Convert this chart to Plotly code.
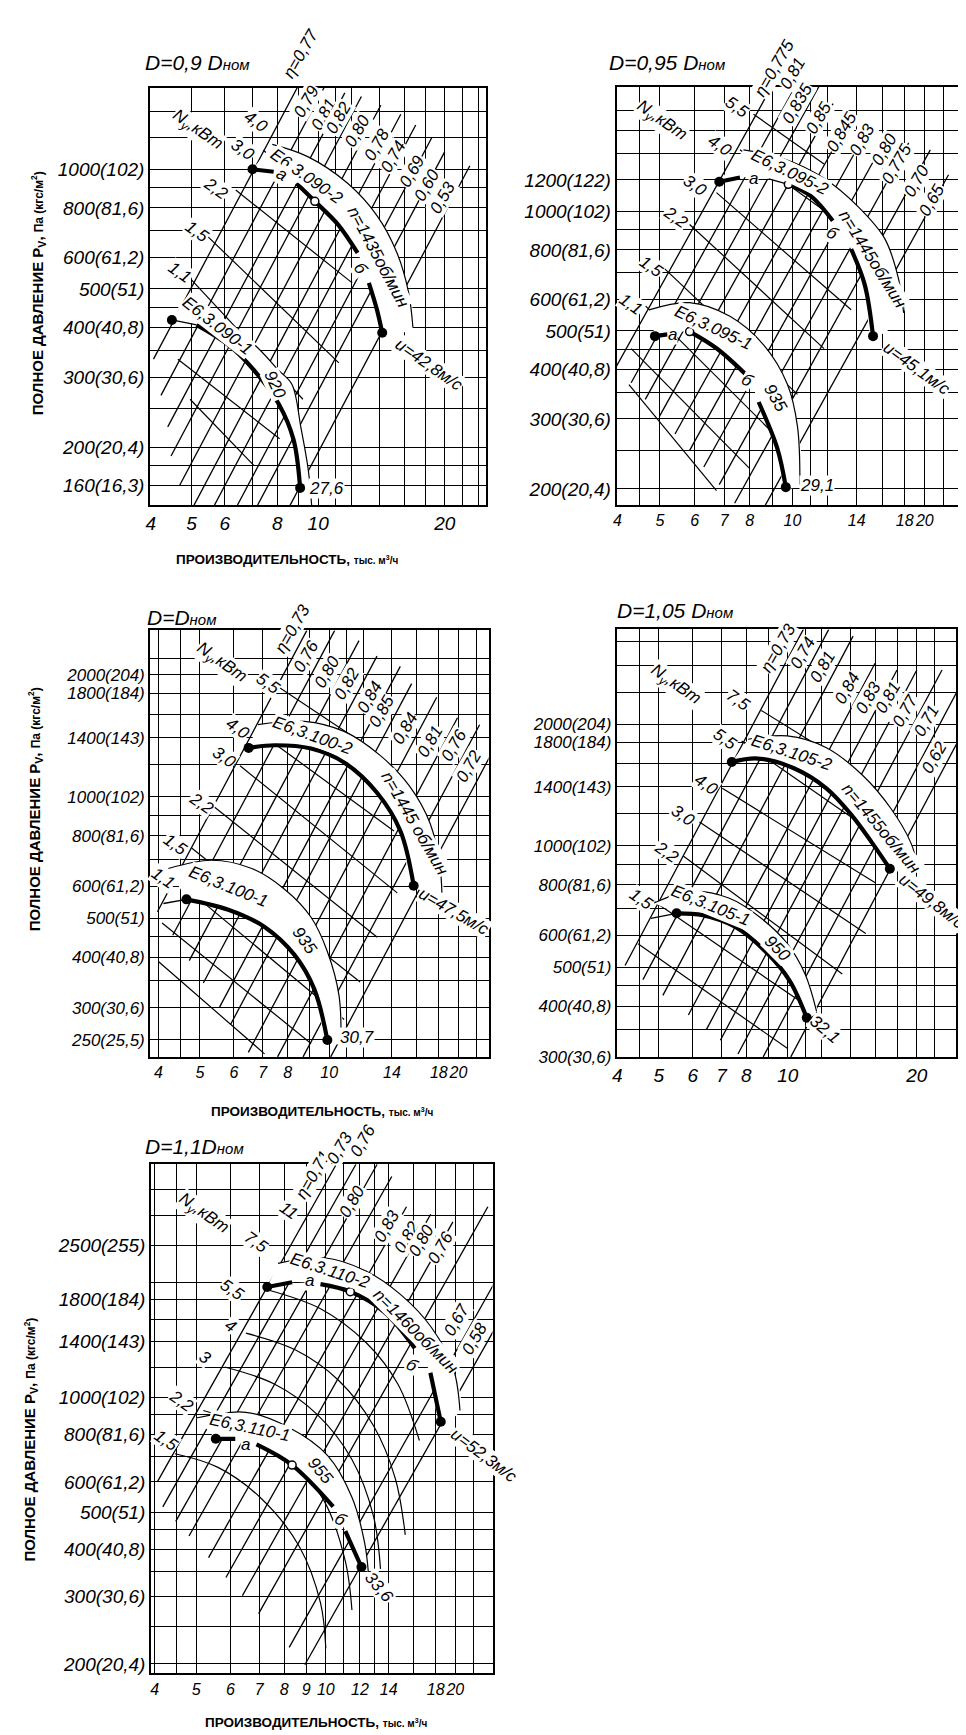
import math
import plotly.graph_objects as go

# ================= DATA =================
# ---------- Panel 1 : D = 0,9 Dном ----------
P1_X_TICKS = [4, 5, 6, 8, 10, 20]
P1_Y_TICKS = [160, 200, 300, 400, 500, 600, 800, 1000]
P1_Y_TEXT = ['160(16,3)', '200(20,4)', '300(30,6)', '400(40,8)', '500(51)', '600(61,2)', '800(81,6)', '1000(102)']
P1_X_GRID = [5, 6, 7, 8, 9, 10, 11, 12, 14, 16, 18, 20, 22, 24]
P1_Y_GRID = [160, 180, 200, 250, 300, 350, 400, 450, 500, 600, 700, 800, 900, 1000, 1200, 1400]
P1_C2_Q = [6.98, 7.84, 8.89, 9.82, 11.14, 12.41, 13.2, 13.8, 14.2]
P1_C2_P = [1000, 986, 921, 831, 727, 616, 518, 443, 388]
P1_C1_Q = [4.49, 5.14, 6.15, 7.1, 8.06, 8.74, 9.06]
P1_C1_P = [418, 406, 360, 309, 257, 209, 158]
P1_OPEN_Q = [9.82]
P1_OPEN_P = [831]
P1_B2_Q = [7.78, 9.47, 11.77, 13.8, 15.4, 16.4, 16.8]
P1_B2_P = [1155, 1075, 921, 765, 616, 491, 400]
P1_B1_Q = [4.78, 5.93, 7.1, 8.06, 8.66, 9.1, 9.47, 9.65]
P1_B1_P = [462, 417, 360, 312, 288, 224, 176, 143]
P1_ETA_TXT = ['η=0,77', '0,79', '0,81', '0,82', '0,80', '0,78', '0,74', '0,69', '0,60', '0,53']
P1_ETA_QT = [9.34, 10.49, 11.57, 12.67, 14.09, 15.72, 17.06, 18.65, 20.0, 22.94]
P1_ETA_PT = [1760, 1656, 1557, 1525, 1449, 1376, 1293, 1204, 1108, 1021]
P1_ETA_QB = [4.06, 4.23, 4.39, 4.47, 4.68, 5.07, 5.67, 6.43, 7.18, 8.58]
P1_ETA_PB = [333, 270, 225, 190, 160, 143, 143, 143, 143, 143]
P1_ETA_LQ = [9.1, 9.39, 10.3, 11.2, 12.4, 13.8, 15.1, 16.7, 18.1, 19.8]
P1_ETA_LP = [1953, 1479, 1376, 1348, 1254, 1155, 1075, 990, 912, 848]
P1_PW_Q0 = [7.41, 6.37, 5.36, 5.0, 4.64, 4.96]
P1_PW_P0 = [1117, 887, 691, 527, 333, 264]
P1_PW_Q1 = [14.4, 12.05, 11.2, 9.2, 8.1, 7.03]
P1_PW_P1 = [616, 518, 326, 264, 210, 180]
P1_NY_TXT = ['N<sub>у</sub>,кВт', '3,0', '4,0', '2,2', '1,5', '1,1']
P1_NY_Q = [5.14, 6.61, 7.1, 5.7, 5.14, 4.69]
P1_NY_P = [1254, 1124, 1320, 893, 698, 550]
P1_LAB_TXT = ['Е6,3.090-2', 'n=1435об/мин', 'u=42,8м/с', 'Е6,3.090-1', '920', '27,6', 'а', 'б']
P1_LAB_Q = [9.4, 13.9, 18.3, 5.75, 7.9, 10.45, 8.2, 12.6]
P1_LAB_P = [960, 600, 322, 405, 288, 157, 970, 562]

# ---------- Panel 2 : D = 0,95 Dном ----------
P2_X_TICKS = [4, 5, 6, 7, 8, 10, 14, 18, 20]
P2_Y_TICKS = [200, 300, 400, 500, 600, 800, 1000, 1200]
P2_Y_TEXT = ['200(20,4)', '300(30,6)', '400(40,8)', '500(51)', '600(61,2)', '800(81,6)', '1000(102)', '1200(122)']
P2_X_GRID = [4.5, 5, 6, 7, 8, 9, 10, 11, 12, 14, 16, 18, 20, 22]
P2_Y_GRID = [200, 250, 300, 350, 400, 450, 500, 600, 700, 800, 900, 1000, 1200, 1400, 1600, 1800]
P2_C2_Q = [6.82, 7.6, 8.83, 9.79, 11.0, 12.35, 13.6, 14.6, 15.25]
P2_C2_P = [1188, 1217, 1207, 1170, 1094, 947, 803, 654, 485]
P2_C1_Q = [4.87, 5.2, 5.84, 6.72, 7.88, 8.38, 9.24, 9.66]
P2_C1_P = [485, 490, 498, 452, 386, 331, 253, 202]
P2_OPEN_Q = [9.79, 5.84]
P2_OPEN_P = [1170, 498]
P2_B2_Q = [7.74, 9.56, 11.8, 14.1, 16.2, 17.4, 17.9]
P2_B2_P = [1429, 1357, 1212, 1028, 855, 681, 555]
P2_B1_Q = [4.72, 5.84, 7.21, 8.6, 9.74, 10.27, 10.4]
P2_B1_P = [565, 589, 544, 461, 367, 287, 205]
P2_ETA_TXT = ['η=0,775', '0,81', '0,835', '0,85', '0,845', '0,83', '0,80', '0,775', '0,70', '0,65']
P2_ETA_QT = [8.97, 10.15, 11.49, 12.37, 13.69, 15.02, 16.29, 18.38, 20.58, 22.64]
P2_ETA_PT = [2063, 2063, 2063, 1868, 1757, 1651, 1520, 1489, 1429, 1237]
P2_ETA_QB = [3.98, 4.30, 4.63, 4.99, 5.41, 5.84, 6.29, 6.82, 7.39, 8.68]
P2_ETA_PB = [407, 370, 336, 305, 275, 250, 227, 205, 184, 182]
P2_ETA_LQ = [9.08, 10.0, 10.27, 11.5, 12.9, 14.4, 16.2, 17.2, 19.2, 20.8]
P2_ETA_LP = [2294, 2226, 1868, 1721, 1584, 1520, 1429, 1316, 1193, 1069]
P2_PW_Q0 = [8.16, 7.6, 6.72, 5.84, 5.07, 4.64, 4.3, 4.25]
P2_PW_P0 = [1757, 1429, 1115, 927, 725, 577, 451, 366]
P2_PW_Q1 = [11.8, 14.1, 13.6, 11.8, 10.27, 9.08, 8.0, 6.72]
P2_PW_P1 = [1316, 872, 565, 451, 346, 275, 225, 198]
P2_NY_TXT = ['N<sub>у</sub>,кВт', '5,5', '4,0', '3,0', '2,2', '1,5', '1,1']
P2_NY_Q = [5.03, 7.5, 6.84, 6.0, 5.43, 4.76, 4.3]
P2_NY_P = [1686, 1830, 1468, 1163, 964, 725, 583]
P2_LAB_TXT = ['Е6,3.095-2', 'n=1445об/мин', 'u=45,1м/с', 'Е6,3.095-1', '935', '29,1', 'а', 'б', 'а', 'б']
P2_LAB_Q = [9.9, 15.2, 19.2, 6.6, 9.17, 11.4, 8.16, 12.35, 5.33, 7.91]
P2_LAB_P = [1250, 755, 403, 510, 338, 204, 1212, 880, 490, 375]

# ---------- Panel 3 : D = Dном ----------
P3_X_TICKS = [4, 5, 6, 7, 8, 10, 14, 18, 20]
P3_Y_TICKS = [250, 300, 400, 500, 600, 800, 1000, 1400, 1800, 2000]
P3_Y_TEXT = ['250(25,5)', '300(30,6)', '400(40,8)', '500(51)', '600(61,2)', '800(81,6)', '1000(102)', '1400(143)', '1800(184)', '2000(204)']
P3_X_GRID = [4, 4.5, 5, 6, 7, 8, 9, 10, 11, 12, 14, 16, 18, 20, 22]
P3_Y_GRID = [250, 300, 350, 400, 450, 500, 600, 700, 800, 900, 1000, 1200, 1400, 1600, 1800, 2000, 2200]
P3_C2_Q = [6.49, 7.46, 9.07, 10.83, 12.94, 14.65, 15.73]
P3_C2_P = [1320, 1340, 1315, 1215, 1021, 822, 602]
P3_C1_Q = [4.65, 5.82, 7.07, 8.3, 9.23, 9.9]
P3_C1_P = [557, 525, 476, 406, 334, 250]
P3_C1S_Q = [4.11, 4.65]
P3_C1S_P = [544, 557]
P3_OPEN_Q = []
P3_OPEN_P = []
P3_B2_Q = [6.82, 8.75, 10.83, 13.16, 15.4, 17.2, 18.1, 18.3]
P3_B2_P = [1507, 1536, 1450, 1263, 1060, 856, 676, 578]
P3_B1_Q = [4.22, 5.32, 6.6, 7.87, 9.07, 9.9, 10.54, 10.65]
P3_B1_P = [664, 696, 664, 590, 503, 414, 322, 245]
P3_ETA_TXT = ['η=0,73', '0,76', '0,80', '0,82', '0,84', '0,85', '0,84', '0,81', '0,76', '0,72']
P3_ETA_QT = [8.87, 10.3, 11.73, 12.92, 14.64, 15.56, 17.8, 19.9, 22.4, 24.2]
P3_ETA_PT = [2578, 2578, 2432, 2227, 2100, 1904, 1762, 1567, 1506, 1314]
P3_ETA_QB = [3.98, 4.32, 4.72, 5.09, 5.55, 5.89, 6.48, 7.58, 8.69, 10.08]
P3_ETA_PB = [519, 454, 393, 346, 301, 273, 233, 227, 227, 227]
P3_ETA_LQ = [8.22, 8.82, 9.9, 11.0, 12.4, 13.3, 15.0, 17.2, 19.5, 21.2]
P3_ETA_LP = [2604, 2227, 2039, 1904, 1762, 1629, 1478, 1366, 1340, 1192]
P3_PW_Q0 = [7.59, 6.82, 6.2, 5.41, 4.78, 4.37, 4.08, 4.0]
P3_PW_P0 = [1872, 1450, 1192, 941, 746, 626, 487, 391]
P3_PW_Q1 = [12.5, 14.15, 14.4, 12.94, 11.8, 10.83, 9.07, 7.07]
P3_PW_P1 = [1315, 822, 578, 449, 348, 281, 245, 231]
P3_NY_TXT = ['N<sub>у</sub>,кВт', '5,5', '4,0', '3,0', '2,2', '1,5', '1,1']
P3_NY_Q = [5.6, 7.2, 6.13, 5.7, 5.04, 4.37, 4.11]
P3_NY_P = [2138, 1904, 1478, 1249, 963, 760, 626]
P3_LAB_TXT = ['Е6,3.100-2', 'n=1445 об/мин', 'u=47,5м/с', 'Е6,3.100-1', '935', '30,7']
P3_LAB_Q = [9.15, 15.8, 19.5, 5.82, 8.75, 11.6]
P3_LAB_P = [1420, 856, 520, 600, 440, 253]

# ---------- Panel 4 : D = 1,05 Dном ----------
P4_X_TICKS = [4, 5, 6, 7, 8, 10, 20]
P4_Y_TICKS = [300, 400, 500, 600, 800, 1000, 1400, 1800, 2000]
P4_Y_TEXT = ['300(30,6)', '400(40,8)', '500(51)', '600(61,2)', '800(81,6)', '1000(102)', '1400(143)', '1800(184)', '2000(204)']
P4_X_GRID = [4.5, 5, 6, 7, 8, 9, 10, 11, 12, 14, 16, 18, 20, 22]
P4_Y_GRID = [350, 400, 450, 500, 600, 700, 800, 900, 1000, 1200, 1400, 1600, 1800, 2000, 2400, 2800, 3200]
P4_C2_Q = [7.4, 8.51, 10.3, 12.3, 14.1, 15.7, 17.3]
P4_C2_P = [1611, 1643, 1557, 1387, 1189, 1019, 877]
P4_C1_Q = [5.5, 6.33, 7.53, 8.98, 10.1, 11.07]
P4_C1_P = [680, 673, 630, 540, 463, 375]
P4_C1S_Q = [4.79, 5.5]
P4_C1S_P = [661, 680]
P4_OPEN_Q = []
P4_OPEN_P = []
P4_B2_Q = [8.08, 9.97, 12.3, 14.9, 17.4, 19.35, 20.2]
P4_B2_P = [1834, 1869, 1748, 1498, 1236, 1019, 874]
P4_B1_Q = [4.87, 5.9, 7.28, 8.67, 9.97, 10.97, 11.67]
P4_B1_P = [721, 771, 742, 661, 572, 481, 389]
P4_ETA_TXT = ['η=0,73', '0,74', '0,81', '0,84', '0,83', '0,81', '0,77', '0,71', '0,62']
P4_ETA_QT = [10.87, 12.46, 14.2, 15.98, 17.98, 20.0, 22.9, 25.4, 28.3]
P4_ETA_PT = [3430, 3430, 3300, 2828, 2721, 2721, 2721, 2520, 2333]
P4_ETA_QB = [4.17, 4.59, 5.11, 5.86, 6.46, 6.96, 7.65, 8.76, 10.16]
P4_ETA_PB = [505, 466, 426, 381, 351, 330, 305, 300, 300]
P4_ETA_LQ = [9.53, 10.8, 12.07, 13.75, 15.4, 17.1, 18.8, 21.1, 22.0]
P4_ETA_LP = [3086, 2996, 2775, 2448, 2333, 2333, 2161, 2039, 1649]
P4_PW_Q0 = [8.67, 7.8, 7.03, 6.22, 5.69, 4.87, 4.47]
P4_PW_P0 = [2161, 1816, 1387, 1144, 944, 728, 572]
P4_PW_Q1 = [12.7, 14.6, 16.0, 15.2, 13.4, 11.86, 9.97]
P4_PW_P1 = [1682, 1144, 809, 606, 481, 382, 315]
P4_NY_TXT = ['N<sub>у</sub>,кВт', '7,5', '5,5', '4,0', '3,0', '2,2', '1,5']
P4_NY_Q = [5.45, 7.67, 7.15, 6.44, 5.69, 5.22, 4.55]
P4_NY_P = [2495, 2289, 1834, 1414, 1189, 962, 735]
P4_LAB_TXT = ['Е6,3.105-2', 'n=1455об/мин', 'u=49,8м/с', 'Е6,3.105-1', '950', '32,1']
P4_LAB_Q = [10.2, 16.5, 21.7, 6.61, 9.46, 12.2]
P4_LAB_P = [1700, 1101, 728, 710, 556, 350]

# ---------- Panel 5 : D = 1,1 Dном ----------
P5_X_TICKS = [4, 5, 6, 7, 8, 9, 10, 12, 14, 18, 20]
P5_Y_TICKS = [200, 300, 400, 500, 600, 800, 1000, 1400, 1800, 2500]
P5_Y_TEXT = ['200(20,4)', '300(30,6)', '400(40,8)', '500(51)', '600(61,2)', '800(81,6)', '1000(102)', '1400(143)', '1800(184)', '2500(255)']
P5_X_GRID = [4.5, 5, 6, 7, 8, 9, 10, 11, 12, 13, 14, 16, 18, 20, 22]
P5_Y_GRID = [200, 250, 300, 350, 400, 450, 500, 600, 700, 800, 900, 1000, 1200, 1400, 1600, 1800, 2000, 2500, 3000, 3500]
P5_C2_Q = [7.31, 8.35, 9.72, 11.4, 13.7, 16.1, 17.5, 18.5]
P5_C2_P = [1944, 2001, 1979, 1891, 1669, 1344, 1159, 862]
P5_C1_Q = [5.55, 6.16, 6.9, 8.35, 10.4, 11.1, 12.1]
P5_C1_P = [778, 778, 752, 664, 517, 446, 359]
P5_OPEN_Q = [11.4, 8.35]
P5_OPEN_P = [1891, 664]
P5_B2_Q = [7.74, 9.91, 12.4, 15.0, 17.6, 19.8, 20.5]
P5_B2_P = [2243, 2320, 2142, 1849, 1523, 1186, 923]
P5_B1_Q = [5.0, 6.52, 8.19, 10.1, 11.5, 12.3, 12.55]
P5_B1_P = [882, 913, 834, 703, 547, 417, 350]
P5_ETA_TXT = ['η=0,71', '0,73', '0,76', '0,80', '0,83', '0,82', '0,80', '0,76', '0,67', '0,58']
P5_ETA_QT = [10.58, 11.75, 13.16, 14.23, 15.4, 17.53, 19.74, 23.8, 24.7, 24.6]
P5_ETA_PT = [4077, 4077, 4077, 3788, 3155, 3017, 2880, 3155, 2000, 1500]
P5_ETA_QB = [4.06, 4.18, 4.48, 4.81, 5.34, 5.86, 6.4, 6.98, 8.22, 8.94]
P5_ETA_PB = [600, 516, 473, 433, 380, 337, 302, 271, 221, 199]
P5_ETA_LQ = [9.36, 10.8, 12.2, 11.5, 13.9, 15.4, 16.7, 18.5, 20.2, 22.2]
P5_ETA_LP = [3830, 4500, 4700, 3260, 2814, 2627, 2569, 2463, 1594, 1423]
P5_A_Q = [[7.31, 9.72, 12.4, 14.7, 16.5],
          [6.52, 8.51, 10.7, 12.9, 14.5, 15.3],
          [5.82, 7.59, 9.53, 11.5, 12.9, 13.4],
          [5.19, 6.52, 8.19, 9.91, 11.1, 11.5],
          [4.46, 5.6, 7.03, 8.67, 9.72, 10.0]]
P5_A_P = [[1913, 1706, 1391, 1083, 770],
          [1472, 1329, 1108, 843, 613, 436],
          [1200, 1083, 903, 687, 489, 355],
          [923, 843, 703, 535, 372, 277],
          [711, 656, 547, 407, 289, 220]]
P5_NY_TXT = ['N<sub>у</sub>,кВт', '11', '7,5', '5,5', '4', '3', '2,2', '1,5']
P5_NY_Q = [5.19, 8.19, 6.9, 6.04, 5.99, 5.24, 4.63, 4.25]
P5_NY_P = [3017, 3085, 2543, 1913, 1541, 1270, 977, 770]
P5_LAB_TXT = ['Е6,3.110-2', 'n=1460об/мин', 'u=52,3м/с', 'Е6,3.110-1', '955', '33,6', 'а', 'б', 'а', 'б']
P5_LAB_Q = [10.2, 16.2, 23.3, 6.65, 9.7, 13.3, 9.18, 15.9, 6.52, 10.8]
P5_LAB_P = [2150, 1489, 703, 834, 642, 317, 2025, 1213, 752, 477]

TITLES = ['D=0,9 D', 'D=0,95 D', 'D=D', 'D=1,05 D', 'D=1,1D']
Y_TITLE = 'ПОЛНОЕ ДАВЛЕНИЕ P<sub>V</sub>, '
X_TITLE = 'ПРОИЗВОДИТЕЛЬНОСТЬ,'

# ================= LAYOUT / STYLE =================
W, H = 966, 1735
FONT = 'Liberation Sans'
T, t = 4.2, 1.25   # thick / thin widths

PANELS = [
    dict(n='', box=(138, 80, 475, 500), xr=(3.99, 25.0), yr=(143, 1606), ytf=19, xtf=19,
         xt=P1_X_TICKS, yt=P1_Y_TICKS, ytt=P1_Y_TEXT, xg=P1_X_GRID, yg=P1_Y_GRID,
         c2=(P1_C2_Q, P1_C2_P), c1=(P1_C1_Q, P1_C1_P), c1s=None,
         seg2=[(0, 1, T), (2, 5, T), (6, 8, T)], seg1=[(0, 1, t), (1, 6, T)],
         op=(P1_OPEN_Q, P1_OPEN_P), b2=(P1_B2_Q, P1_B2_P), b1=(P1_B1_Q, P1_B1_P),
         eta=(P1_ETA_TXT, P1_ETA_QT, P1_ETA_PT, P1_ETA_QB, P1_ETA_PB, P1_ETA_LQ, P1_ETA_LP),
         pw=(P1_PW_Q0, P1_PW_P0, P1_PW_Q1, P1_PW_P1), arcs=None,
         ny=(P1_NY_TXT, P1_NY_Q, P1_NY_P), lab=(P1_LAB_TXT, P1_LAB_Q, P1_LAB_P),
         labang=[35, 62, 35, 38, 65, 0, 30, 55],
         title=(TITLES[0], 185, 55)),
    dict(n='2', box=(607, 79, 950, 500), xr=(3.99, 23.8), yr=(182, 2063), ytf=19, xtf=16,
         xt=P2_X_TICKS, yt=P2_Y_TICKS, ytt=P2_Y_TEXT, xg=P2_X_GRID, yg=P2_Y_GRID,
         c2=(P2_C2_Q, P2_C2_P), c1=(P2_C1_Q, P2_C1_P), c1s=None,
         seg2=[(0, 1, T), (2, 3, t), (3, 5, T), (6, 8, T)], seg1=[(0, 1, T), (2, 4, T), (5, 7, T)],
         op=(P2_OPEN_Q, P2_OPEN_P), b2=(P2_B2_Q, P2_B2_P), b1=(P2_B1_Q, P2_B1_P),
         eta=(P2_ETA_TXT, P2_ETA_QT, P2_ETA_PT, P2_ETA_QB, P2_ETA_PB, P2_ETA_LQ, P2_ETA_LP),
         pw=(P2_PW_Q0, P2_PW_P0, P2_PW_Q1, P2_PW_P1), arcs=None,
         ny=(P2_NY_TXT, P2_NY_Q, P2_NY_P), lab=(P2_LAB_TXT, P2_LAB_Q, P2_LAB_P),
         labang=[26, 58, 36, 25, 60, 0, 0, 30, 0, 30],
         title=(TITLES[1], 657, 55)),
    dict(n='3', box=(138, 626, 478, 1055), xr=(3.83, 23.5), yr=(227, 2578), ytf=17, xtf=16,
         xt=P3_X_TICKS, yt=P3_Y_TICKS, ytt=P3_Y_TEXT, xg=P3_X_GRID, yg=P3_Y_GRID,
         c2=(P3_C2_Q, P3_C2_P), c1=(P3_C1_Q, P3_C1_P), c1s=(P3_C1S_Q, P3_C1S_P),
         seg2=[(0, 6, T)], seg1=[(0, 5, T)],
         op=(P3_OPEN_Q, P3_OPEN_P), b2=(P3_B2_Q, P3_B2_P), b1=(P3_B1_Q, P3_B1_P),
         eta=(P3_ETA_TXT, P3_ETA_QT, P3_ETA_PT, P3_ETA_QB, P3_ETA_PB, P3_ETA_LQ, P3_ETA_LP),
         pw=(P3_PW_Q0, P3_PW_P0, P3_PW_Q1, P3_PW_P1), arcs=None,
         ny=(P3_NY_TXT, P3_NY_Q, P3_NY_P), lab=(P3_LAB_TXT, P3_LAB_Q, P3_LAB_P),
         labang=[20, 60, 30, 22, 55, 0],
         title=(TITLES[2], 170, 613)),
    dict(n='4', box=(607, 625, 948, 1055), xr=(3.99, 24.7), yr=(300, 3430), ytf=17, xtf=19,
         xt=P4_X_TICKS, yt=P4_Y_TICKS, ytt=P4_Y_TEXT, xg=P4_X_GRID, yg=P4_Y_GRID,
         c2=(P4_C2_Q, P4_C2_P), c1=(P4_C1_Q, P4_C1_P), c1s=(P4_C1S_Q, P4_C1S_P),
         seg2=[(0, 6, T)], seg1=[(0, 5, T)],
         op=(P4_OPEN_Q, P4_OPEN_P), b2=(P4_B2_Q, P4_B2_P), b1=(P4_B1_Q, P4_B1_P),
         eta=(P4_ETA_TXT, P4_ETA_QT, P4_ETA_PT, P4_ETA_QB, P4_ETA_PB, P4_ETA_LQ, P4_ETA_LP),
         pw=(P4_PW_Q0, P4_PW_P0, P4_PW_Q1, P4_PW_P1), arcs=None,
         ny=(P4_NY_TXT, P4_NY_Q, P4_NY_P), lab=(P4_LAB_TXT, P4_LAB_Q, P4_LAB_P),
         labang=[18, 50, 38, 22, 45, 40],
         title=(TITLES[3], 665, 606)),
    dict(n='5', box=(139, 1163, 482, 1675), xr=(3.93, 24.4), yr=(189, 4077), ytf=19, xtf=16,
         xt=P5_X_TICKS, yt=P5_Y_TICKS, ytt=P5_Y_TEXT, xg=P5_X_GRID, yg=P5_Y_GRID,
         c2=(P5_C2_Q, P5_C2_P), c1=(P5_C1_Q, P5_C1_P), c1s=None,
         seg2=[(0, 1, T), (2, 5, T), (6, 7, T)], seg1=[(0, 1, T), (2, 4, T), (5, 6, T)],
         op=(P5_OPEN_Q, P5_OPEN_P), b2=(P5_B2_Q, P5_B2_P), b1=(P5_B1_Q, P5_B1_P),
         eta=(P5_ETA_TXT, P5_ETA_QT, P5_ETA_PT, P5_ETA_QB, P5_ETA_PB, P5_ETA_LQ, P5_ETA_LP),
         pw=None, arcs=(P5_A_Q, P5_A_P),
         ny=(P5_NY_TXT, P5_NY_Q, P5_NY_P), lab=(P5_LAB_TXT, P5_LAB_Q, P5_LAB_P),
         labang=[18, 45, 37, 12, 50, 50, 0, 30, 0, 30],
         title=(TITLES[4], 182, 1145)),
]

AXIS_TITLES = [
    ('y', 25, 287), ('x', 275, 555),
    ('y', 22, 806), ('x', 311, 1110),
    ('y', 18, 1440), ('x', 305, 1724),
]

fig = go.Figure()
annotations = []


def lg(v):
    return math.log10(v)


def line(q, p, xa, ya, width=t, shape='linear'):
    fig.add_trace(go.Scatter(x=q, y=p, mode='lines', xaxis=xa, yaxis=ya,
                             line=dict(color='black', width=width, shape=shape),
                             hoverinfo='skip', showlegend=False))


def ann(cfg, text, q, p, size=17, angle=0, bg=True):
    """Data-anchored label; anchors beyond the axis range are pinned to the edge and shifted."""
    n = cfg['n']
    L, Tp, R, B = cfg['box']
    x0, x1 = lg(cfg['xr'][0]), lg(cfg['xr'][1])
    y0, y1 = lg(cfg['yr'][0]), lg(cfg['yr'][1])
    xv, yv = lg(q), lg(p)
    xs = ys = 0
    if yv > y1:
        ys = (yv - y1) / (y1 - y0) * (B - Tp)
        yv = y1
    if xv > x1:
        xs = (xv - x1) / (x1 - x0) * (R - L)
        xv = x1
    annotations.append(dict(text=text, x=xv, y=yv, xref='x' + n, yref='y' + n, showarrow=False,
                            xanchor='center', yanchor='middle',
                            xshift=xs, yshift=ys, textangle=angle,
                            bgcolor='white' if bg else 'rgba(0,0,0,0)', borderpad=0,
                            font=dict(family=FONT, size=size, color='black', style='italic')))


layout_axes = {}
for cfg in PANELS:
    n = cfg['n']
    xa, ya = 'x' + n, 'y' + n
    L, Tp, R, B = cfg['box']
    common = dict(type='log', showgrid=True, gridcolor='black', gridwidth=1.1, zeroline=False,
                  showline=True, linecolor='black', linewidth=2.2, mirror=True, ticks='',
                  fixedrange=True, tickmode='array', tickangle=0, title=dict(text=''))
    layout_axes['xaxis' + n] = dict(common, domain=[L / W, R / W], anchor=ya,
                                    range=[lg(cfg['xr'][0]), lg(cfg['xr'][1])],
                                    tickvals=cfg['xt'], ticktext=[str(v) for v in cfg['xt']],
                                    tickfont=dict(family=FONT, size=cfg['xtf'], color='black', style='italic'),
                                    minor=dict(tickmode='array', tickvals=cfg['xg'], showgrid=True,
                                               gridcolor='black', gridwidth=1.1, ticks=''))
    layout_axes['yaxis' + n] = dict(common, domain=[1 - B / H, 1 - Tp / H], anchor=xa,
                                    range=[lg(cfg['yr'][0]), lg(cfg['yr'][1])],
                                    tickvals=cfg['yt'], ticktext=cfg['ytt'],
                                    tickfont=dict(family=FONT, size=cfg['ytf'], color='black', style='italic'),
                                    minor=dict(tickmode='array', tickvals=cfg['yg'], showgrid=True,
                                               gridcolor='black', gridwidth=1.1, ticks=''))

    # efficiency rays
    et = cfg['eta']
    for i in range(len(et[0])):
        line([et[3][i], et[1][i]], [et[4][i], et[2][i]], xa, ya, width=1.3)
    # power lines
    if cfg['pw']:
        q0, p0, q1, p1 = cfg['pw']
        for i in range(len(q0)):
            line([q0[i], q1[i]], [p0[i], p1[i]], xa, ya, width=1.2)
    if cfg['arcs']:
        for aq, ap in zip(*cfg['arcs']):
            line(aq, ap, xa, ya, width=1.2, shape='spline')
    # white label bands
    for (bq, bp), (cq, cp) in [(cfg['b2'], cfg['c2']), (cfg['b1'], cfg['c1'])]:
        fig.add_trace(go.Scatter(x=bq + cq[::-1], y=bp + cp[::-1], mode='lines', fill='toself',
                                 fillcolor='white', line=dict(width=0, shape='spline', color='white'),
                                 xaxis=xa, yaxis=ya, hoverinfo='skip', showlegend=False))
        line(bq, bp, xa, ya, width=1.2, shape='spline')
    if cfg['c1s']:
        line(cfg['c1s'][0], cfg['c1s'][1], xa, ya, width=1.3, shape='spline')
    # fan characteristics
    for (cq, cp), segs in [(cfg['c2'], cfg['seg2']), (cfg['c1'], cfg['seg1'])]:
        for i0, i1, wdt in segs:
            line(cq[i0:i1 + 1], cp[i0:i1 + 1], xa, ya, width=wdt, shape='spline')
        fig.add_trace(go.Scatter(x=[cq[0], cq[-1]], y=[cp[0], cp[-1]], mode='markers',
                                 marker=dict(color='black', size=10), xaxis=xa, yaxis=ya,
                                 cliponaxis=False, hoverinfo='skip', showlegend=False))
    oq, op = cfg['op']
    if oq:
        fig.add_trace(go.Scatter(x=oq, y=op, mode='markers',
                                 marker=dict(color='white', size=8, line=dict(color='black', width=1.5)),
                                 xaxis=xa, yaxis=ya, hoverinfo='skip', showlegend=False))

    # labels
    for i, txt in enumerate(et[0]):
        ann(cfg, txt, et[5][i], et[6][i], size=17, angle=-60)
    nt, nq, npp = cfg['ny']
    for i, txt in enumerate(nt):
        ann(cfg, txt, nq[i], npp[i], size=17, angle=35)
    lt, lq, lp = cfg['lab']
    for i, txt in enumerate(lt):
        ann(cfg, txt, lq[i], lp[i], size=17, angle=cfg['labang'][i])

    ttl, tx, ty = cfg['title']
    annotations.append(dict(text=ttl + "<span style='font-size:15px'>ном</span>", x=tx / W, y=1 - ty / H,
                            xref='paper', yref='paper', showarrow=False,
                            xanchor='center', yanchor='middle',
                            font=dict(family=FONT, size=21, color='black', style='italic')))

for kind, tx, ty in AXIS_TITLES:
    if kind == 'y':
        txt = ("<b>" + Y_TITLE + "</b><span style='font-size:12px'><b>Па (кгс/м<sup>2</sup>)</b></span>")
        ang = -90
        size = 15
    else:
        txt = ("<b>" + X_TITLE + "</b> <span style='font-size:10px'><b>тыс. м<sup>3</sup>/ч</b></span>")
        ang = 0
        size = 13.5
    annotations.append(dict(text=txt, x=tx / W, y=1 - ty / H, xref='paper', yref='paper',
                            showarrow=False, textangle=ang, xanchor='center', yanchor='middle',
                            font=dict(family=FONT, size=size, color='black')))

fig.update_layout(width=W, height=H, margin=dict(l=0, r=0, t=0, b=0),
                  paper_bgcolor='white', plot_bgcolor='white', showlegend=False,
                  annotations=annotations, **layout_axes)

fig.write_html('out.html')
